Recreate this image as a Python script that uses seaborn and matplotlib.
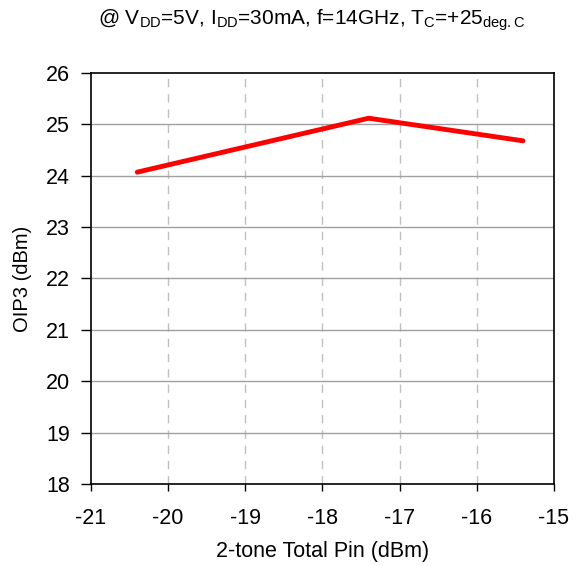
import matplotlib
matplotlib.use("Agg")
import matplotlib.pyplot as plt
import seaborn as sns
import pandas as pd

pin_dbm = [-20.4, -17.4, -15.4]
oip3_dbm = [24.07, 25.12, 24.68]
x_ticks = [-21, -20, -19, -18, -17, -16, -15]
y_ticks = [18, 19, 20, 21, 22, 23, 24, 25, 26]

sns.set_theme(style="white")
plt.rcParams['font.family'] = ['Liberation Sans', 'DejaVu Sans']
plt.rcParams['mathtext.fontset'] = 'custom'
plt.rcParams['mathtext.rm'] = 'Liberation Sans'
plt.rcParams['mathtext.it'] = 'Liberation Sans'
plt.rcParams['text.color'] = 'black'
plt.rcParams['axes.labelcolor'] = 'black'
plt.rcParams['xtick.color'] = 'black'
plt.rcParams['ytick.color'] = 'black'

df = pd.DataFrame({"pin": pin_dbm, "oip3": oip3_dbm})

fig = plt.figure(figsize=(5.83, 5.66), dpi=100)
ax = fig.add_axes([0.156, 0.145, 0.794, 0.726])

sns.lineplot(data=df, x="pin", y="oip3", ax=ax, color="#ff0000", linewidth=3.5,
             solid_capstyle="round", zorder=5)

ax.set_xlim(-21, -15)
ax.set_ylim(18, 26)
ax.set_xticks(x_ticks)
ax.set_yticks(y_ticks)
ax.set_xticklabels([str(v) for v in x_ticks])
ax.set_yticklabels([str(v) for v in y_ticks])

for v in x_ticks[1:-1]:
    ax.axvline(v, color="#c0c0c0", linestyle=(0, (6, 5)), linewidth=1.0, zorder=1)
for v in y_ticks[1:-1]:
    ax.axhline(v, color="#a0a0a0", linestyle="-", linewidth=1.0, zorder=1)

for s in ax.spines.values():
    s.set_color("black")
    s.set_linewidth(1.2)

ax.tick_params(axis="x", direction="out", length=5, width=1, color="black",
               labelsize=15.5, pad=12, bottom=True)
ax.tick_params(axis="y", direction="out", length=7, width=1, color="black",
               labelsize=15.5, pad=8, left=True)

ax.set_xlabel("2-tone Total Pin (dBm)", fontsize=15.5, labelpad=9)
ax.set_ylabel("OIP3 (dBm)", fontsize=14.5, labelpad=10)

fig.text(0.535, 0.964,
         r"@ V$_{\mathrm{DD}}$=5V, I$_{\mathrm{DD}}$=30mA, f=14GHz, T$_{\mathrm{C}}$=+25$_{\mathrm{deg.C}}$",
         ha="center", va="center", fontsize=15)

fig.savefig("out.png", dpi=100)
